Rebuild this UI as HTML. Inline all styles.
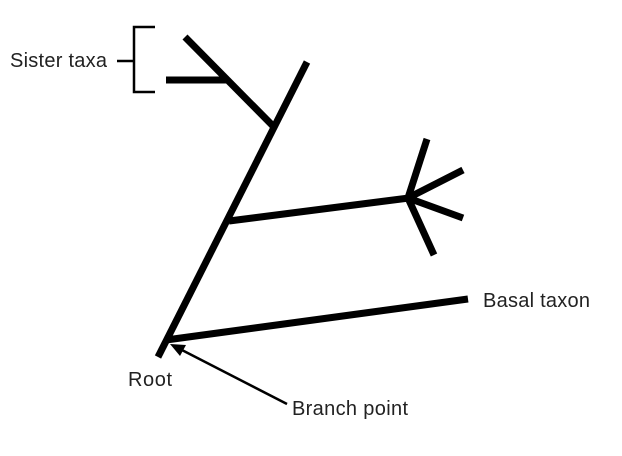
<!DOCTYPE html>
<html><head><meta charset="utf-8"><style>
html,body{margin:0;padding:0;background:#fff;width:622px;height:456px;overflow:hidden}
text{font-family:"Liberation Sans",sans-serif;font-size:20px;fill:#222}
</style></head><body>
<svg width="622" height="456" viewBox="0 0 622 456" xmlns="http://www.w3.org/2000/svg">
<g stroke="#000" stroke-width="7" stroke-linecap="butt" fill="none">
<line x1="158" y1="357" x2="307" y2="62"/>
<line x1="273" y1="126" x2="185" y2="37"/>
<line x1="166" y1="80" x2="226" y2="80"/>
<line x1="229" y1="221" x2="409" y2="198"/>
<line x1="408" y1="198" x2="427" y2="139"/>
<line x1="408" y1="198" x2="463" y2="170"/>
<line x1="408" y1="198" x2="463" y2="218"/>
<line x1="408" y1="198" x2="434" y2="255"/>
<line x1="166" y1="340" x2="468" y2="299"/>
</g>
<g stroke="#000" stroke-width="2.5" fill="none">
<polyline points="155,27 134,27 134,92 155,92"/>
<line x1="117" y1="61" x2="134" y2="61"/>
<line x1="287" y1="404" x2="178" y2="348"/>
</g>
<polygon points="170,344 186,345 180,356" fill="#000"/>
<text x="10" y="67" textLength="97">Sister taxa</text>
<text x="483" y="307" textLength="107">Basal taxon</text>
<text x="128" y="386" textLength="44">Root</text>
<text x="292" y="415" textLength="116">Branch point</text>
</svg>
</body></html>
